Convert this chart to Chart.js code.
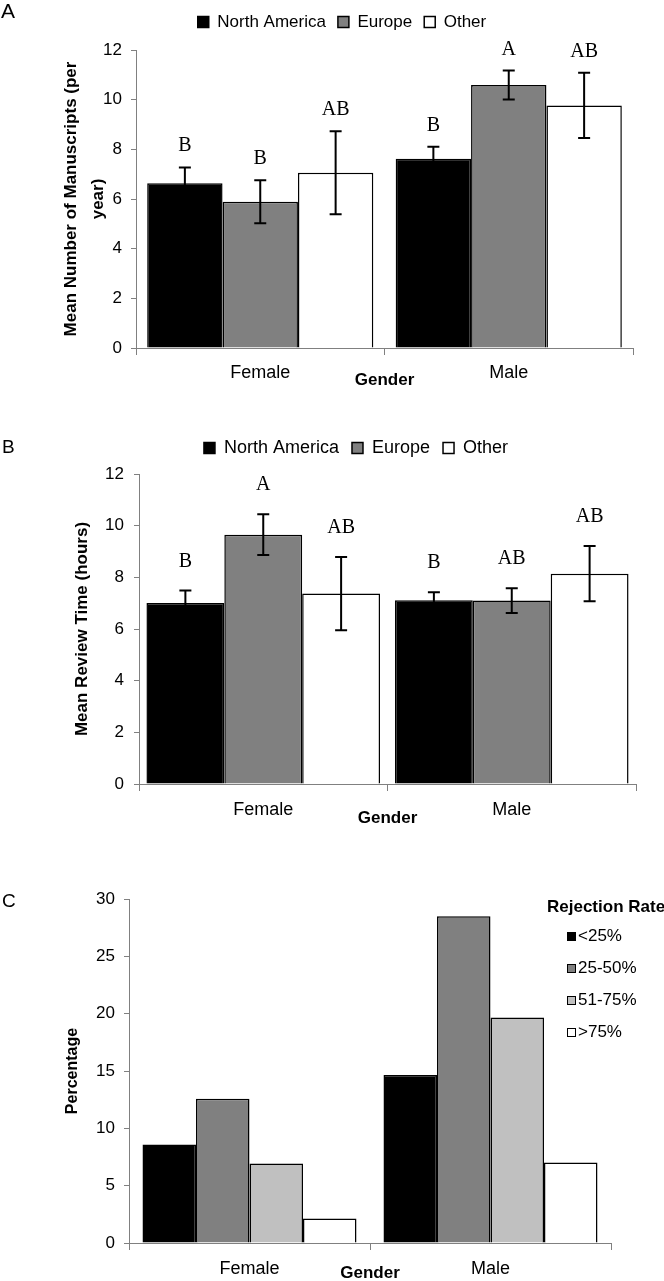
<!DOCTYPE html>
<html>
<head>
<meta charset="utf-8">
<script src="https://cdn.jsdelivr.net/npm/chart.js@4.4.1/dist/chart.umd.min.js"></script>
<style>
  html, body { margin: 0; padding: 0; background: #fff; overflow: hidden; }
  .panel { position: absolute; left: 0; }
</style>
</head>
<body>
<canvas id="chartA" class="panel" width="664" height="400" style="top:0px"></canvas>
<canvas id="chartB" class="panel" width="664" height="420" style="top:420px"></canvas>
<canvas id="chartC" class="panel" width="664" height="440" style="top:850px"></canvas>
<script>
const genders = ["Female", "Male"];
const regionLabels = ["North America", "Europe", "Other"];
const rejectionLabels = ["<25%", "25-50%", "51-75%", ">75%"];

const meanTicks = [0, 2, 4, 6, 8, 10, 12];
const percentTicks = [0, 5, 10, 15, 20, 25, 30];

// A - manuscripts per year
const manuscriptsNA = [6.63, 7.62];
const manuscriptsEurope = [5.89, 10.59];
const manuscriptsOther = [7.06, 9.77];
const manuscriptsErrNA = [0.64, 0.48];
const manuscriptsErrEurope = [0.87, 0.58];
const manuscriptsErrOther = [1.67, 1.31];
const manuscriptsLettersNA = ["B", "B"];
const manuscriptsLettersEurope = ["B", "A"];
const manuscriptsLettersOther = ["AB", "AB"];

// B - review time (hours)
const reviewNA = [7.01, 7.11];
const reviewEurope = [9.65, 7.1];
const reviewOther = [7.37, 8.14];
const reviewErrNA = [0.48, 0.31];
const reviewErrEurope = [0.79, 0.48];
const reviewErrOther = [1.42, 1.07];
const reviewLettersNA = ["B", "B"];
const reviewLettersEurope = ["A", "AB"];
const reviewLettersOther = ["AB", "AB"];

// C - rejection rate percentage
const rejectionUnder25 = [8.59, 14.65];
const rejection25to50 = [12.58, 28.49];
const rejection51to75 = [6.93, 19.66];
const rejectionOver75 = [2.13, 7.02];

const regionColors = ["#000000", "#808080", "#ffffff"];
const rejectionColors = ["#000000", "#808080", "#c0c0c0", "#ffffff"];
const axisGrey = "#808080";

Chart.defaults.font.family = "'Liberation Sans', Arial, sans-serif";
Chart.defaults.color = "#000";

const barDataset = function (label, data, color, errors, letters) {
  return {
    label: label,
    data: data,
    backgroundColor: color,
    borderColor: "#000",
    borderWidth: 1.5,
    errors: errors,
    letters: letters,
  };
};

// keeps the legend at a fixed height so the plot top lands where it should
const fixLegendHeight = function (h) {
  return {
    id: "legendHeight",
    beforeInit(chart) {
      const fit = chart.legend.fit;
      chart.legend.fit = function () {
        fit.call(this);
        this.height = h;
      };
    },
  };
};

const errorBars = {
  id: "errorBars",
  afterDatasetsDraw(chart, args, opts) {
    const ctx = chart.ctx;
    const y = chart.scales.y;
    chart.data.datasets.forEach((ds, i) => {
      if (!ds.errors) return;
      chart.getDatasetMeta(i).data.forEach((bar, j) => {
        const hi = y.getPixelForValue(ds.data[j] + ds.errors[j]);
        const lo = y.getPixelForValue(ds.data[j] - ds.errors[j]);
        ctx.save();
        ctx.strokeStyle = "#000";
        ctx.lineWidth = 2;
        ctx.beginPath();
        ctx.moveTo(bar.x, lo);
        ctx.lineTo(bar.x, hi);
        ctx.moveTo(bar.x - 6, hi);
        ctx.lineTo(bar.x + 6, hi);
        ctx.moveTo(bar.x - 6, lo);
        ctx.lineTo(bar.x + 6, lo);
        ctx.stroke();
        ctx.fillStyle = "#000";
        ctx.font = "20px 'Liberation Serif', 'Times New Roman', serif";
        ctx.textAlign = "center";
        ctx.textBaseline = "alphabetic";
        ctx.fillText(ds.letters[j], bar.x, hi - opts.gap);
        ctx.restore();
      });
    });
  },
};

const panelLetter = {
  id: "panelLetter",
  afterDraw(chart, args, opts) {
    const ctx = chart.ctx;
    ctx.save();
    ctx.fillStyle = "#000";
    ctx.font = opts.size + "px 'Liberation Sans', Arial, sans-serif";
    ctx.textBaseline = "alphabetic";
    ctx.fillText(opts.text, opts.x, opts.y);
    ctx.restore();
  },
};

const sideLegend = {
  id: "sideLegend",
  afterDraw(chart, args, opts) {
    const ctx = chart.ctx;
    ctx.save();
    ctx.fillStyle = "#000";
    ctx.textBaseline = "middle";
    ctx.font = "bold 17px 'Liberation Sans', Arial, sans-serif";
    ctx.fillText(opts.title, opts.x, opts.y);
    ctx.font = "17px 'Liberation Sans', Arial, sans-serif";
    chart.data.datasets.forEach((ds, i) => {
      const cy = Math.round(opts.y + opts.firstGap + i * opts.step);
      ctx.fillStyle = ds.backgroundColor;
      ctx.fillRect(opts.x + 20, cy - 4, 8, 8);
      ctx.strokeStyle = "#000";
      ctx.lineWidth = 1;
      ctx.strokeRect(opts.x + 20.5, cy - 3.5, 8, 8);
      ctx.fillStyle = "#000";
      ctx.fillText(ds.label, opts.x + 31, cy);
    });
    ctx.restore();
  },
};

const genderAxis = function (height, tickPad, titlePad) {
  return {
    offset: true,
    afterFit: (s) => {
      s.height = height;
    },
    grid: { offset: true, drawOnChartArea: false, tickLength: 7, color: axisGrey },
    border: { color: axisGrey },
    ticks: { font: { size: 18 }, padding: tickPad, maxRotation: 0 },
    title: {
      display: true,
      text: "Gender",
      font: { size: 17, weight: "bold" },
      padding: { top: 0, bottom: titlePad },
    },
  };
};

const valueAxis = function (ticks, width, title, titleFont, titlePad, tickPad) {
  return {
    min: ticks[0],
    max: ticks[ticks.length - 1],
    afterFit: (s) => {
      s.width = width;
    },
    afterBuildTicks: (s) => {
      s.ticks = ticks.map((v) => ({ value: v }));
    },
    grid: { drawOnChartArea: false, tickLength: 5, color: axisGrey },
    border: { color: axisGrey },
    ticks: { font: { size: 17 }, padding: tickPad },
    title: { display: true, text: title, font: titleFont, padding: { top: titlePad, bottom: 0 } },
  };
};

new Chart(document.getElementById("chartA"), {
  type: "bar",
  data: {
    labels: genders,
    datasets: [
      barDataset(regionLabels[0], manuscriptsNA, regionColors[0], manuscriptsErrNA, manuscriptsLettersNA),
      barDataset(regionLabels[1], manuscriptsEurope, regionColors[1], manuscriptsErrEurope, manuscriptsLettersEurope),
      barDataset(regionLabels[2], manuscriptsOther, regionColors[2], manuscriptsErrOther, manuscriptsLettersOther),
    ],
  },
  options: {
    responsive: false,
    animation: false,
    layout: { autoPadding: false, padding: { left: 51, right: 31, top: 1.5, bottom: 0 } },
    datasets: { bar: { categoryPercentage: 0.91, barPercentage: 1 } },
    plugins: {
      legend: { position: "top", labels: { boxWidth: 11, boxHeight: 11, padding: 12, font: { size: 17 } } },
      tooltip: { enabled: false },
      errorBars: { gap: 16 },
      panelLetter: { text: "A", x: 1, y: 18, size: 21 },
    },
    scales: {
      x: genderAxis(52, 7, 9.8),
      y: valueAxis(
        meanTicks,
        85,
        ["Mean Number of Manuscripts (per", "year)"],
        { size: 17, weight: "bold", lineHeight: 1.6 },
        6.4,
        9
      ),
    },
  },
  plugins: [fixLegendHeight(48.5), errorBars, panelLetter],
});

new Chart(document.getElementById("chartB"), {
  type: "bar",
  data: {
    labels: genders,
    datasets: [
      barDataset(regionLabels[0], reviewNA, regionColors[0], reviewErrNA, reviewLettersNA),
      barDataset(regionLabels[1], reviewEurope, regionColors[1], reviewErrEurope, reviewLettersEurope),
      barDataset(regionLabels[2], reviewOther, regionColors[2], reviewErrOther, reviewLettersOther),
    ],
  },
  options: {
    responsive: false,
    animation: false,
    layout: { autoPadding: false, padding: { left: 76, right: 28, top: 6, bottom: 0 } },
    datasets: { bar: { categoryPercentage: 0.94, barPercentage: 1 } },
    plugins: {
      legend: { position: "top", labels: { boxWidth: 11, boxHeight: 11, padding: 13, font: { size: 18 } } },
      tooltip: { enabled: false },
      errorBars: { gap: 24 },
      panelLetter: { text: "B", x: 2, y: 33, size: 19 },
    },
    scales: {
      x: genderAxis(56, 8, 11.8),
      y: valueAxis(meanTicks, 63, "Mean Review Time (hours)", { size: 17, weight: "bold" }, -4.2, 10),
    },
  },
  plugins: [fixLegendHeight(48), errorBars, panelLetter],
});

new Chart(document.getElementById("chartC"), {
  type: "bar",
  data: {
    labels: genders,
    datasets: [
      barDataset(rejectionLabels[0], rejectionUnder25, rejectionColors[0]),
      barDataset(rejectionLabels[1], rejection25to50, rejectionColors[1]),
      barDataset(rejectionLabels[2], rejection51to75, rejectionColors[2]),
      barDataset(rejectionLabels[3], rejectionOver75, rejectionColors[3]),
    ],
  },
  options: {
    responsive: false,
    animation: false,
    layout: { autoPadding: false, padding: { left: 0, right: 53, top: 49, bottom: 0 } },
    datasets: { bar: { categoryPercentage: 0.888, barPercentage: 1 } },
    plugins: {
      legend: { display: false },
      tooltip: { enabled: false },
      sideLegend: { title: "Rejection Rate", x: 547, y: 57, firstGap: 29, step: 32 },
      panelLetter: { text: "C", x: 2, y: 57, size: 19 },
    },
    scales: {
      x: genderAxis(47, 8, 6.8),
      y: valueAxis(percentTicks, 129, "Percentage", { size: 16, weight: "bold" }, 63.4, 9),
    },
  },
  plugins: [sideLegend, panelLetter],
});
</script>
</body>
</html>
